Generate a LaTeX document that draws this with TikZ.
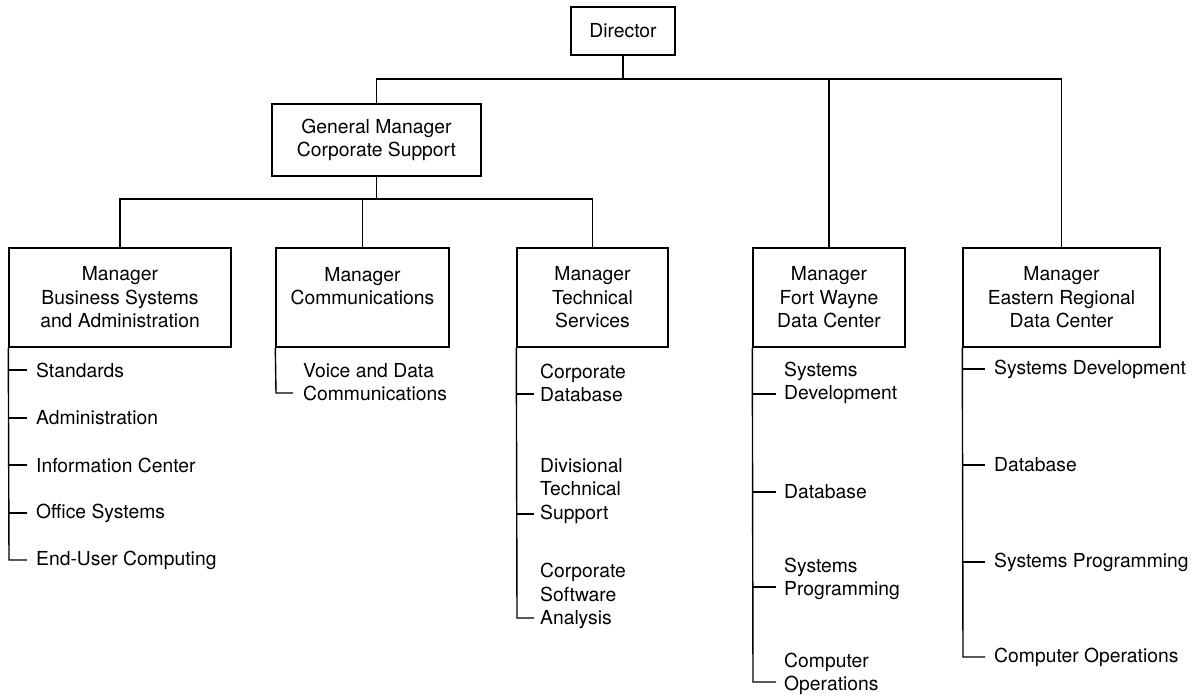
\documentclass[tikz,border=0pt]{standalone}
\usepackage{fontspec}
\setmainfont{TeX Gyre Heros}
\begin{document}
\begin{tikzpicture}[x=1pt,y=-1pt,
  every node/.style={font=\fontsize{19.3}{23.5}\selectfont},
  box/.style={draw, line width=1.4pt, inner sep=0pt, align=center},
  item/.style={anchor=west, inner sep=0pt, align=left},
  conn/.style={line width=1.4pt}]
\path[use as bounding box] (0,0) rectangle (1197,696);

% boxes
\node[box, minimum width=104pt, minimum height=48pt] (dir) at (623,31) {Director};
\node[box, minimum width=209pt, minimum height=72pt] (gm) at (376.5,140) {General Manager\\Corporate Support};
\node[box, minimum width=222pt, minimum height=99pt] (bsa) at (120,297.5) {Manager\\Business Systems\\and Administration};
\node[box, minimum width=173pt, minimum height=99pt] (com) at (362.5,297.5) {Manager\\Communications\\\mbox{}};
\node[box, minimum width=151pt, minimum height=99pt] (tech) at (592.5,297.5) {Manager\\Technical\\Services};
\node[box, minimum width=152pt, minimum height=99pt] (fw) at (829,297.5) {Manager\\Fort Wayne\\Data Center};
\node[box, minimum width=197pt, minimum height=99pt] (er) at (1061.5,297.5) {Manager\\Eastern Regional\\Data Center};

% upper connectors
\coordinate (bus1) at (623,79);
\coordinate (bus2) at (376.5,199);
\draw[conn] (dir.south) -- (bus1);
\draw[conn] (gm.north) |- (bus1) -| (er.north);
\draw[conn] (bus1) -| (fw.north);
\draw[conn] (gm.south) -- (bus2);
\draw[conn] (bsa.north) |- (bus2) -| (tech.north);
\draw[conn] (bus2) -| (com.north);

% items: Business Systems and Administration
\node[item] (a1) at (36,370) {Standards};
\node[item] (a2) at (36,418) {Administration};
\node[item] (a3) at (36,465) {Information Center};
\node[item] (a4) at (36,513) {Office Systems};
\node[item] (a5) at (36,560) {End-User Computing};
\coordinate (ta1) at (9,370);
\coordinate (ta2) at (9,418);
\coordinate (ta3) at (9,465);
\coordinate (ta4) at (9,513);
\coordinate (ta5) at (9,560);
\draw[conn] (bsa.south west) -- (ta5) -- ++(18,0);
\foreach \t in {ta1,ta2,ta3,ta4} \draw[conn] (\t) -- ++(18,0);

% Communications
\node[item] (b1) at (303,382) {Voice and Data\\Communications};
\coordinate (tb1) at (276,393);
\draw[conn] (com.south west) -- (tb1) -- ++(17,0);

% Technical Services
\node[item] (c1) at (540,383) {Corporate\\Database};
\node[item] (c2) at (540,491) {Divisional\\Technical\\Support};
\node[item] (c3) at (540,596) {Corporate\\Software\\Analysis};
\coordinate (tc1) at (517,394);
\coordinate (tc2) at (517,514);
\coordinate (tc3) at (517,618);
\draw[conn] (tech.south west) -- (tc3) -- ++(17,0);
\foreach \t in {tc1,tc2} \draw[conn] (\t) -- ++(17,0);

% Fort Wayne
\node[item] (d1) at (784,383) {Systems\\Development};
\node[item] (d2) at (784,492) {Database};
\node[item] (d3) at (784,579) {Systems\\Programming};
\node[item] (d4) at (784,674) {Computer\\Operations};
\coordinate (td1) at (753,394);
\coordinate (td2) at (753,492);
\coordinate (td3) at (753,587);
\coordinate (td4) at (753,682);
\draw[conn] (fw.south west) -- (td4) -- ++(23,0);
\foreach \t in {td1,td2,td3} \draw[conn] (\t) -- ++(23,0);

% Eastern Regional
\node[item] (e1) at (994,369) {Systems Development};
\node[item] (e2) at (994,465) {Database};
\node[item] (e3) at (994,562) {Systems Programming};
\node[item] (e4) at (994,657) {Computer Operations};
\coordinate (te1) at (963,369);
\coordinate (te2) at (963,465);
\coordinate (te3) at (963,562);
\coordinate (te4) at (963,657);
\draw[conn] (er.south west) -- (te4) -- ++(22,0);
\foreach \t in {te1,te2,te3} \draw[conn] (\t) -- ++(22,0);
\end{tikzpicture}
\end{document}
